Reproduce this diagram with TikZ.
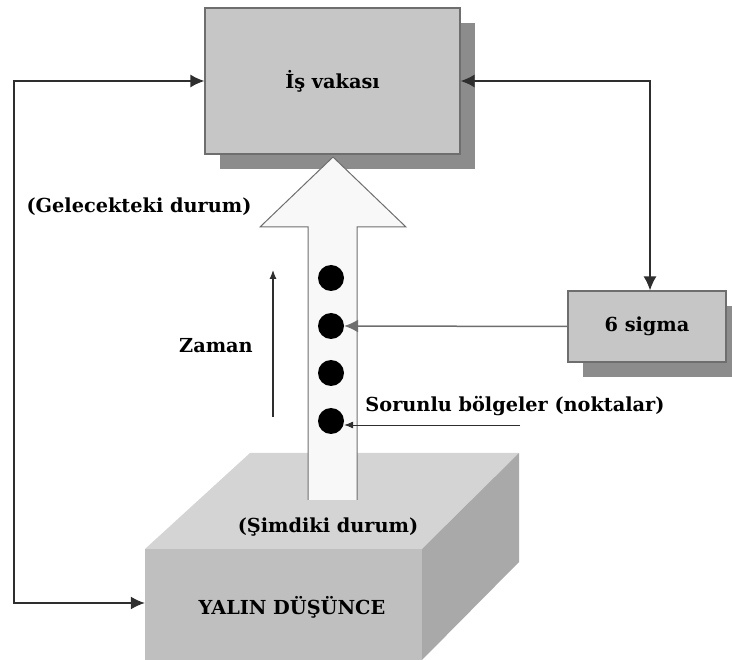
\documentclass[tikz,border=0pt]{standalone}
\usepackage{fontspec}
\setmainfont{DejaVu Serif}
\usetikzlibrary{arrows.meta}
\definecolor{boxfill}{HTML}{C6C6C6}
\definecolor{boxshadow}{HTML}{8C8C8C}
\definecolor{edgegray}{HTML}{6E6E6E}
\definecolor{linegray}{HTML}{2E2E2E}
\definecolor{topface}{HTML}{D4D4D4}
\definecolor{frontface}{HTML}{BFBFBF}
\definecolor{sideface}{HTML}{A9A9A9}
\definecolor{arrowfill}{HTML}{F8F8F8}
\tikzset{
  lbl/.style={font=\bfseries\fontsize{19.3}{22}\selectfont, text=black, inner sep=0pt},
  panel/.style={draw=edgegray, line width=1.2pt, fill=boxfill, inner sep=0pt},
  shade/.style={fill=boxshadow, draw=none},
  conn/.style={draw=linegray, line width=1.5pt, -{Latex[length=14pt,width=13pt]}},
  biconn/.style={draw=linegray, line width=1.5pt, {Latex[length=14pt,width=13pt]}-{Latex[length=14pt,width=13pt]}},
  thinconn/.style={draw=linegray, line width=0.8pt, -{Latex[length=9pt,width=7pt]}},
  spot/.style={circle, fill=black, minimum size=26pt, inner sep=0pt},
}
\begin{document}
\begin{tikzpicture}[x=1pt,y=-1pt]
\useasboundingbox (0,0) rectangle (732,660);

% three-dimensional base block
\fill[topface] (145,549) -- (250,453) -- (519,453) -- (422,549) -- cycle;
\fill[sideface] (422,549) -- (519,453) -- (519,562) -- (422,660) -- cycle;
\fill[frontface] (145,549) rectangle (422,660);
\node[minimum width=277pt, minimum height=111pt, inner sep=0pt] (base) at (283.5,604.5) {};
\node[lbl] (yalin) at (292,607) {YALIN DÜŞÜNCE};

% business case box with drop shadow
\fill[shade] (220,23) rectangle (475,169);
\node[panel, minimum width=255pt, minimum height=146pt] (case) at (332.5,81) {};
\node[lbl] at (case.center) {İş vakası};

% six sigma box with drop shadow
\fill[shade] (583,306) rectangle (741,377);
\node[panel, minimum width=158pt, minimum height=71pt] (sigma) at (647,326.5) {};
\node[lbl] at (sigma.center) {6 sigma};

% big upward arrow from present to future state
\draw[edgegray, line width=1pt, fill=arrowfill]
  (308,500) -- (308,227) -- (260,227) -- (333,157) -- (406,227)
  -- (357,227) -- (357,500);

% problem spots
\node[spot] (p1) at (331,278) {};
\node[spot] (p2) at (331,326) {};
\node[spot] (p3) at (331,373) {};
\node[spot] (p4) at (331,421) {};

% labels
\node[lbl] (future) at (139,207) {(Gelecekteki durum)};
\node[lbl] (present) at (328,527) {(Şimdiki durum)};
\node[lbl] (zaman) at (216,346) {Zaman};
\node[lbl] (sorunlu) at (515,406) {Sorunlu bölgeler (noktalar)};

% time arrow
\coordinate (t0) at (273,417);
\coordinate (t1) at (273,270);
\draw[draw=linegray, line width=1.2pt, -{Latex[length=9pt,width=7pt]}] (t0) -- (t1);

% connectors
\coordinate (c1) at (650,81);
\draw[biconn] (case.east) -- (c1) -- (sigma.north -| c1);
\draw[conn, draw=edgegray] (sigma.west) -- (p2.east);
\coordinate (s0) at (520,425);
\draw[thinconn] (s0) -- (p4.east |- s0);
\coordinate (l1) at (14,81);
\coordinate (l2) at (14,603);
\draw[biconn] (case.west) -- (l1) -- (l2) -- (base.west |- l2);
\end{tikzpicture}
\end{document}
